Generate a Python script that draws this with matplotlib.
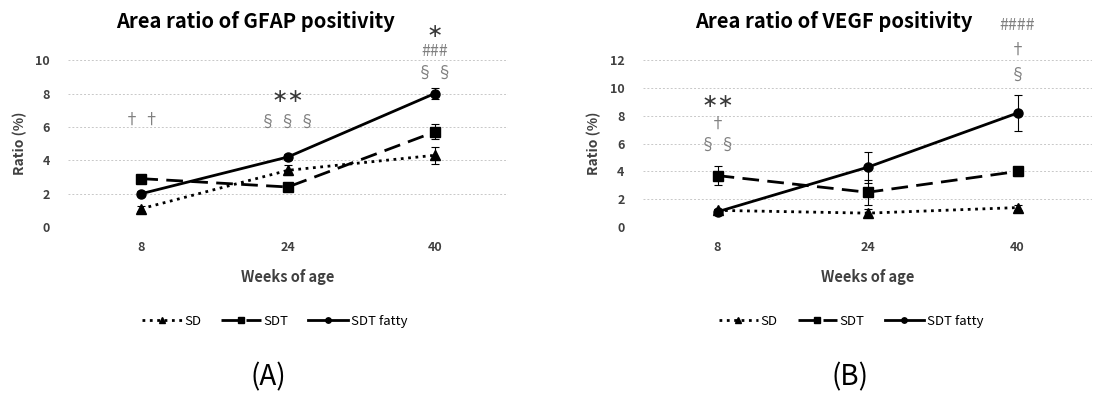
import matplotlib
matplotlib.use("Agg")
import matplotlib.pyplot as plt

plt.rcParams["font.family"] = ["Noto Sans CJK JP", "DejaVu Sans"]

weeks = ["8", "24", "40"]
groups = ["SD", "SDT", "SDT fatty"]

gfap_mean = {"SD": [1.1, 3.4, 4.3], "SDT": [2.9, 2.4, 5.7], "SDT fatty": [2.0, 4.2, 8.0]}
gfap_err = {"SD": [0.15, 0.3, 0.5], "SDT": [0.2, 0.2, 0.45], "SDT fatty": [0.15, 0.2, 0.35]}

vegf_mean = {"SD": [1.2, 1.0, 1.4], "SDT": [3.7, 2.5, 4.0], "SDT fatty": [1.1, 4.3, 8.2]}
vegf_err = {"SD": [0.1, 0.3, 0.2], "SDT": [0.7, 0.9, 0.3], "SDT fatty": [0.2, 1.1, 1.3]}

# significance marks: (week index, y value, text)
gfap_marks = [
    (0, 6.4, "† †"),
    (1, 7.8, "∗∗"),
    (1, 6.3, "§ § §"),
    (2, 11.7, "∗"),
    (2, 10.5, "###"),
    (2, 9.2, "§ §"),
]
vegf_marks = [
    (0, 9.0, "∗∗"),
    (0, 7.4, "†"),
    (0, 5.9, "§ §"),
    (2, 14.5, "####"),
    (2, 12.7, "†"),
    (2, 10.9, "§"),
]

styles = {
    "SD": dict(ls=":", marker="^", lw=2.0, ms=6.5),
    "SDT": dict(ls=(0, (6, 3)), marker="s", lw=2.0, ms=6.5),
    "SDT fatty": dict(ls="-", marker="o", lw=2.0, ms=6.5),
}


def draw_panel(ax, means, errs, marks, title, ymax, step):
    x = range(len(weeks))
    handles = []
    for g in groups:
        h = ax.errorbar(x, means[g], yerr=errs[g], color="black", capsize=3,
                        elinewidth=0.8, capthick=0.8, **styles[g])
        handles.append(h.lines[0])
    for xi, yv, txt in marks:
        if "∗" in txt:
            ax.text(xi, yv, txt, ha="center", va="center", color="#383838",
                    fontsize=14, family="DejaVu Sans", clip_on=False)
        else:
            ax.text(xi, yv, txt, ha="center", va="center", color="#808080",
                    fontsize=11.5, clip_on=False)
    ax.set_xlim(-0.5, len(weeks) - 0.5)
    ax.set_ylim(0, ymax)
    ax.set_yticks(range(0, ymax + 1, step))
    ax.set_xticks(list(x))
    ax.set_xticklabels(weeks)
    ax.grid(axis="y", color="#c8c8c8", ls=(0, (2, 2)), lw=0.7)
    ax.set_axisbelow(True)
    for s in ax.spines.values():
        s.set_visible(False)
    ax.tick_params(axis="x", length=0, labelsize=9, pad=10)
    ax.tick_params(axis="y", length=0, labelsize=9, pad=13)
    for lab in ax.get_xticklabels() + ax.get_yticklabels():
        lab.set_fontweight("bold")
        lab.set_color("#404040")
    ax.set_xlabel("Weeks of age", fontsize=10.5, fontweight="bold", color="#404040", labelpad=11)
    ax.set_ylabel("Ratio (%)", fontsize=10, fontweight="bold", color="#404040", labelpad=6)
    ax.set_title(title, fontsize=14.5, fontweight="bold", x=0.425, pad=23)
    return handles


fig = plt.figure(figsize=(11.08, 4.04), dpi=100)
ax1 = fig.add_axes([0.0614, 0.438, 0.397, 0.413])
ax2 = fig.add_axes([0.580, 0.438, 0.406, 0.413])

h1 = draw_panel(ax1, gfap_mean, gfap_err, gfap_marks, "Area ratio of GFAP positivity", 10, 2)
h2 = draw_panel(ax2, vegf_mean, vegf_err, vegf_marks, "Area ratio of VEGF positivity", 12, 2)

for handles, cx in [(h1, 0.248), (h2, 0.768)]:
    fig.legend(handles, groups, loc="center", bbox_to_anchor=(cx, 0.205), ncol=3,
               frameon=False, fontsize=9.5, handlelength=3.0, columnspacing=1.5,
               handletextpad=0.2, markerscale=0.6)

fig.text(0.242, 0.065, "(A)", ha="center", va="center", fontsize=20)
fig.text(0.767, 0.065, "(B)", ha="center", va="center", fontsize=20)

fig.savefig("out.png", dpi=100)
